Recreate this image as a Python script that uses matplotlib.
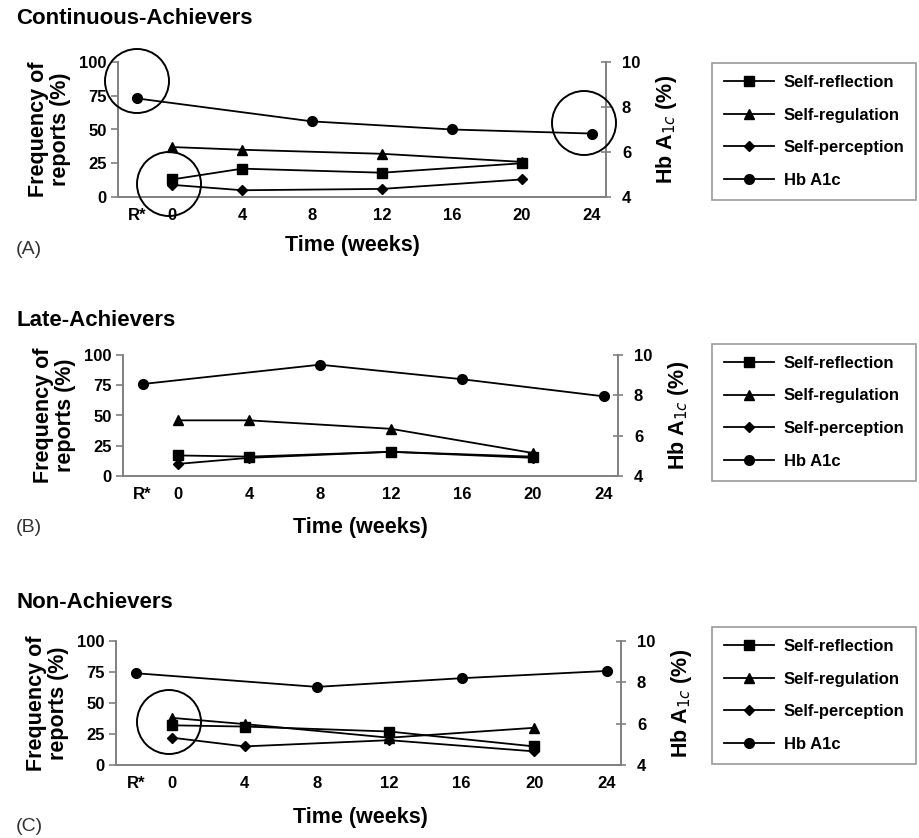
import matplotlib
matplotlib.use("Agg")
import matplotlib.pyplot as plt
from matplotlib.patches import Ellipse

W, H = 920, 838

# x positions (weeks); R* is the run-in point drawn just left of week 0
tick_pos = [-2, 0, 4, 8, 12, 16, 20, 24]
tick_labels = ["R*", "0", "4", "8", "12", "16", "20", "24"]

weeks = [0, 4, 12, 20]
hb_weeks = [-2, 8, 16, 24]

# Continuous-Achievers
a_reflection = [13, 21, 18, 25]
a_regulation = [37, 35, 32, 26]
a_perception = [9, 5, 6, 13]
a_hb = [8.38, 7.36, 7.0, 6.82]

# Late-Achievers
b_reflection = [17, 16, 20, 16]
b_regulation = [46, 46, 39, 19]
b_perception = [10, 15, 20, 15]
b_hb = [8.56, 9.52, 8.8, 7.95]

# Non-Achievers
c_reflection = [32, 31, 27, 15]
c_regulation = [38, 33, 22, 30]
c_perception = [22, 15, 20, 11]
c_hb = [8.44, 7.78, 8.2, 8.55]

panels = [
    ("Continuous-Achievers", "(A)", a_reflection, a_regulation, a_perception, a_hb),
    ("Late-Achievers", "(B)", b_reflection, b_regulation, b_perception, b_hb),
    ("Non-Achievers", "(C)", c_reflection, c_regulation, c_perception, c_hb),
]

# pixel layout: (left, right, top, bottom) of each plot box
boxes = [(118, 606, 62, 197), (123, 618, 355, 476), (116, 621, 641, 765)]
title_y = [19, 320, 602]
letter_y = [249, 528, 826]
xlabel_y = [246, 528, 817]
xlabel_x = [352, 360, 360]
legend_top = [63, 344, 627]

# hand-drawn circles in the source figure (pixel centre, diameter)
circles = [(137, 81, 64), (169, 184, 64), (584, 123, 64), (169, 722, 64)]

FONT = ["Liberation Sans", "DejaVu Sans"]
gray = "#808080"

fig = plt.figure(figsize=(W / 100, H / 100), dpi=100)


def fx(x):
    return x / W


def fy(y):
    return 1 - y / H


for i, (title, letter, refl, regu, perc, hb) in enumerate(panels):
    l, r, t, b = boxes[i]
    ax = fig.add_axes([fx(l), fy(b), fx(r - l), (b - t) / H])
    ax2 = ax.twinx()

    kw = dict(color="black", lw=1.3, ms=7, clip_on=False)
    h1, = ax.plot(weeks, refl, marker="s", label="Self-reflection", **kw)
    h2, = ax.plot(weeks, regu, marker="^", label="Self-regulation", **kw)
    h3, = ax.plot(weeks, perc, marker="D", ms=5.5, color="black", lw=1.3,
                  clip_on=False, label="Self-perception")
    h4, = ax2.plot(hb_weeks, hb, marker="o", label="Hb A1c", **kw)

    ax.set_xlim(-3.1, 24.8)
    ax.set_ylim(0, 100)
    ax2.set_ylim(4, 10)
    ax.set_yticks([0, 25, 50, 75, 100])
    ax2.set_yticks([4, 6, 8, 10])
    ax.set_xticks(tick_pos)
    ax.set_xticklabels(tick_labels)

    for a in (ax, ax2):
        a.spines["top"].set_visible(False)
        for s in ("left", "right", "bottom"):
            a.spines[s].set_color(gray)
            a.spines[s].set_linewidth(1.2)
    ax.tick_params(axis="x", length=0, pad=8)
    ax.tick_params(axis="y", length=5, width=1.2, color=gray, pad=3)
    ax2.tick_params(axis="y", length=7, width=1.2, color=gray, direction="inout", pad=8)
    for lab in ax.get_xticklabels() + ax.get_yticklabels() + ax2.get_yticklabels():
        lab.set_family(FONT)
        lab.set_fontweight("bold")
        lab.set_fontsize(12)

    ax.set_ylabel("Frequency of\nreports (%)", family=FONT, fontweight="bold",
                  fontsize=15.5, linespacing=1.05, labelpad=6)
    ax2.set_ylabel("Hb A$_{1c}$ (%)", family=FONT, fontweight="bold",
                   fontsize=15.5, labelpad=10)

    fig.text(fx(16), fy(title_y[i]), title, family=FONT, fontweight="bold",
             fontsize=16, va="center", ha="left")
    fig.text(fx(16), fy(letter_y[i]), letter, family=FONT, fontsize=14,
             va="center", ha="left", color="#333333")
    fig.text(fx(xlabel_x[i]), fy(xlabel_y[i]), "Time (weeks)", family=FONT,
             fontweight="bold", fontsize=15.5, va="center", ha="center")

    leg = fig.legend(handles=[h1, h2, h3, h4], loc="upper left",
                     bbox_to_anchor=(fx(712), fy(legend_top[i])),
                     prop={"family": FONT, "weight": "bold", "size": 12},
                     handlelength=3.0, labelspacing=1.07, borderpad=0.7,
                     handletextpad=0.6, fancybox=False, frameon=True,
                     borderaxespad=0)
    leg.get_frame().set_edgecolor(gray)
    leg.get_frame().set_linewidth(1.2)

for cx, cy, d in circles:
    fig.patches.append(Ellipse((fx(cx), fy(cy)), d / W, d / H, fill=False,
                               edgecolor="black", lw=1.4,
                               transform=fig.transFigure, figure=fig))

fig.savefig("out.png", dpi=100)
